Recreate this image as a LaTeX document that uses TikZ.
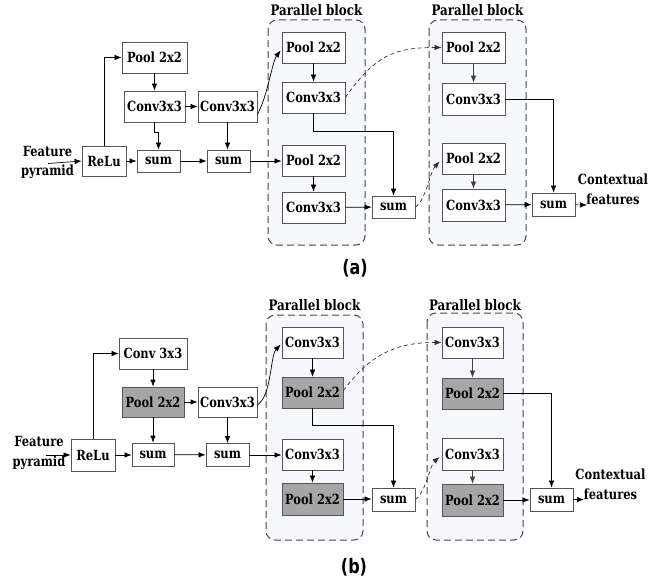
\documentclass[tikz,border=0pt]{standalone}
\usepackage{fontspec}
\setmainfont{DejaVu Serif}[FakeStretch=0.82]
\newfontfamily\labfont{DejaVu Sans}[FakeStretch=0.8]
\usetikzlibrary{arrows.meta}
\definecolor{blockfill}{HTML}{F6F8FC}
\definecolor{boxline}{HTML}{555555}
\definecolor{grayfill}{HTML}{A6A6A6}
\tikzset{
  box/.style={draw=boxline, line width=0.8pt, fill=white, inner sep=0pt,
    font=\fontsize{14}{16}\selectfont\bfseries},
  gbox/.style={box, fill=grayfill},
  pblock/.style={draw=black!72, dash pattern=on 7pt off 4pt, line width=1pt,
    fill=blockfill, rounded corners=9pt},
  arr/.style={line width=0.7pt, -{Latex[length=7pt,width=5.5pt]}},
  garr/.style={arr, draw=black!75},
  darr/.style={arr, dash pattern=on 4pt off 3pt, draw=black!80},
  side/.style={font=\fontsize{14}{19.5}\selectfont\bfseries, align=center, inner sep=0pt},
  plabel/.style={font=\fontsize{14.5}{16}\selectfont\bfseries, inner sep=0pt},
  captext/.style={font=\labfont\fontsize{20}{22}\selectfont\bfseries, inner sep=0pt}
}
\begin{document}
\begin{tikzpicture}[x=1pt,y=-1pt]
\useasboundingbox (0,0) rectangle (670,583);
% ---------------- panel (a) ----------------
\draw[pblock] (268,20) rectangle (365,245);
\draw[pblock] (429,20) rectangle (526,245);
\node[plabel] (aL1) at (316.5,10) {Parallel block};
\node[plabel] (aL2) at (477.5,10) {Parallel block};

\node[box, minimum width=65, minimum height=31] (apool) at (154.5,57.5) {Pool 2x2};
\node[box, minimum width=61, minimum height=31] (ac1) at (154.5,106.5) {Conv3x3};
\node[box, minimum width=59, minimum height=31] (ac2) at (227.5,106.5) {Conv3x3};
\node[box, minimum width=44, minimum height=30] (arelu) at (104,161) {ReLu};
\node[box, minimum width=43, minimum height=22] (as1) at (158.5,161) {sum};
\node[box, minimum width=43, minimum height=22] (as2) at (228.5,161) {sum};

\node[box, minimum width=63, minimum height=31] (ab1p1) at (313.5,47.5) {Pool 2x2};
\node[box, minimum width=63, minimum height=31] (ab1c1) at (313.5,97.5) {Conv3x3};
\node[box, minimum width=63, minimum height=31] (ab1p2) at (313.5,160.5) {Pool 2x2};
\node[box, minimum width=63, minimum height=31] (ab1c2) at (313.5,207.5) {Conv3x3};
\node[box, minimum width=43, minimum height=22] (as3) at (393.5,207) {sum};

\node[box, minimum width=63, minimum height=31] (ab2p1) at (473.5,47.5) {Pool 2x2};
\node[box, minimum width=63, minimum height=32] (ab2c1) at (473.5,99) {Conv3x3};
\node[box, minimum width=63, minimum height=31] (ab2p2) at (473.5,158.5) {Pool 2x2};
\node[box, minimum width=63, minimum height=32] (ab2c2) at (473.5,205) {Conv3x3};
\node[box, minimum width=43, minimum height=23] (as4) at (553.5,204.5) {sum};

\node[side] (afp) at (47.5,162.5) {Feature\\pyramid};
\coordinate (afpin) at (48,163.5);
\node[side] (acf) at (613,189.5) {Contextual\\features};
\coordinate (acfin) at (587,205);
\node[captext] (acap) at (355,268) {(a)};

\draw[arr] (afpin) -- (arelu.west);
\draw[arr] (arelu.north) |- (apool.west);
\draw[arr] (apool) -- (ac1);
\draw[arr] (ac1) -- (ac2);
\draw[arr] (ac1.south) -- ++(0,10) -| (as1.north);
\draw[arr] (ac2.south) -- (ac2.south |- as2.north);
\draw[arr] (arelu) -- (as1);
\draw[arr] (as1) -- (as2);
\draw[arr] (as2.east) -- (as2.east -| ab1p2.west);
\draw[arr] ([yshift=-8pt]ac2.east) .. controls (268,95) and (272,62) .. ([yshift=-3pt,xshift=-1pt]ab1p1.west);
\draw[arr] (ab1p1) -- (ab1c1);
\draw[arr] (ab1p2) -- (ab1c2);
\draw[arr] (ab1c1.south) -- ++(0,18) -| (as3.north);
\draw[arr] (ab1c2) -- (as3);
\draw[darr] (ab1c1.east) .. controls (375,55) and (395,47.5) .. (ab2p1.west);
\draw[darr] (as3.east) .. controls (426,200) and (430,172) .. ([xshift=-2pt,yshift=-3pt]ab2p2.west);
\draw[garr] (ab2p1) -- (ab2c1);
\draw[garr] (ab2p2) -- (ab2c2);
\draw[arr] (ab2c1.east) -| (as4.north);
\draw[arr] (ab2c2) -- (as4);
\draw[arr] (as4) -- (acfin);

% ---------------- panel (b) ----------------
\draw[pblock] (266,315) rectangle (363,540);
\draw[pblock] (427,313) rectangle (523,540);
\node[plabel] (bL1) at (314.5,305) {Parallel block};
\node[plabel] (bL2) at (475,305) {Parallel block};

\node[box, minimum width=68, minimum height=31] (bconv) at (153,353.5) {Conv 3x3};
\node[gbox, minimum width=62, minimum height=30] (bpool) at (153,402) {Pool 2x2};
\node[box, minimum width=59, minimum height=30] (bc2) at (227.5,402) {Conv3x3};
\node[box, minimum width=44, minimum height=32] (brelu) at (93,455) {ReLu};
\node[box, minimum width=42, minimum height=23] (bs1) at (153,454.5) {sum};
\node[box, minimum width=43, minimum height=23] (bs2) at (227.5,455) {sum};

\node[box, minimum width=61, minimum height=31] (bb1c1) at (312.5,342.5) {Conv3x3};
\node[gbox, minimum width=61, minimum height=31] (bb1p1) at (312.5,392.5) {Pool 2x2};
\node[box, minimum width=61, minimum height=31] (bb1c2) at (312.5,454.5) {Conv3x3};
\node[gbox, minimum width=61, minimum height=32] (bb1p2) at (312.5,499) {Pool 2x2};
\node[box, minimum width=43, minimum height=23] (bs3) at (393.5,499.5) {sum};

\node[box, minimum width=61, minimum height=31] (bb2c1) at (472.5,342.5) {Conv3x3};
\node[gbox, minimum width=61, minimum height=31] (bb2p1) at (472.5,393.5) {Pool 2x2};
\node[box, minimum width=61, minimum height=32] (bb2c2) at (472.5,454) {Conv3x3};
\node[gbox, minimum width=61, minimum height=32] (bb2p2) at (472.5,500) {Pool 2x2};
\node[box, minimum width=43, minimum height=23] (bs4) at (551.5,499.5) {sum};

\node[side] (bfp) at (39,453) {Feature\\pyramid};
\coordinate (bfpin) at (46,455);
\node[side] (bcf) at (610.5,484.5) {Contextual\\features};
\coordinate (bcfin) at (584,499.5);
\node[captext] (bcap) at (354,567) {(b)};

\draw[arr] (bfpin) -- (brelu.west);
\draw[arr] (brelu.north) |- (bconv.west);
\draw[arr] (bconv) -- (bpool);
\draw[arr] (bpool) -- (bc2);
\draw[arr] (bpool) -- (bs1);
\draw[arr] (bc2.south) -- (bc2.south |- bs2.north);
\draw[arr] (brelu.east) -- (brelu.east -| bs1.west);
\draw[arr] (bs1) -- (bs2);
\draw[arr] (bs2.east) -- (bs2.east -| bb1c2.west);
\draw[arr] ([yshift=-3pt]bc2.east) .. controls (272,395) and (270,356) .. ([xshift=-1pt,yshift=-2pt]bb1c1.west);
\draw[arr] (bb1c1) -- (bb1p1);
\draw[arr] (bb1c2) -- (bb1p2);
\draw[arr] (bb1p1.south) -- ++(0,16.5) -| (bs3.north);
\draw[arr] (bb1p2.east) -- (bb1p2.east -| bs3.west);
\draw[darr] ([yshift=2pt]bb1p1.east) .. controls (370,355) and (395,342.5) .. (bb2c1.west);
\draw[darr] (bs3.east) .. controls (426,492) and (430,465) .. ([xshift=-2pt,yshift=-3pt]bb2c2.west);
\draw[garr] (bb2c1) -- (bb2p1);
\draw[garr] (bb2c2) -- (bb2p2);
\draw[arr] (bb2p1.east) -| (bs4.north);
\draw[arr] (bb2p2.east) -- (bb2p2.east -| bs4.west);
\draw[arr] (bs4) -- (bcfin);
\end{tikzpicture}
\end{document}
